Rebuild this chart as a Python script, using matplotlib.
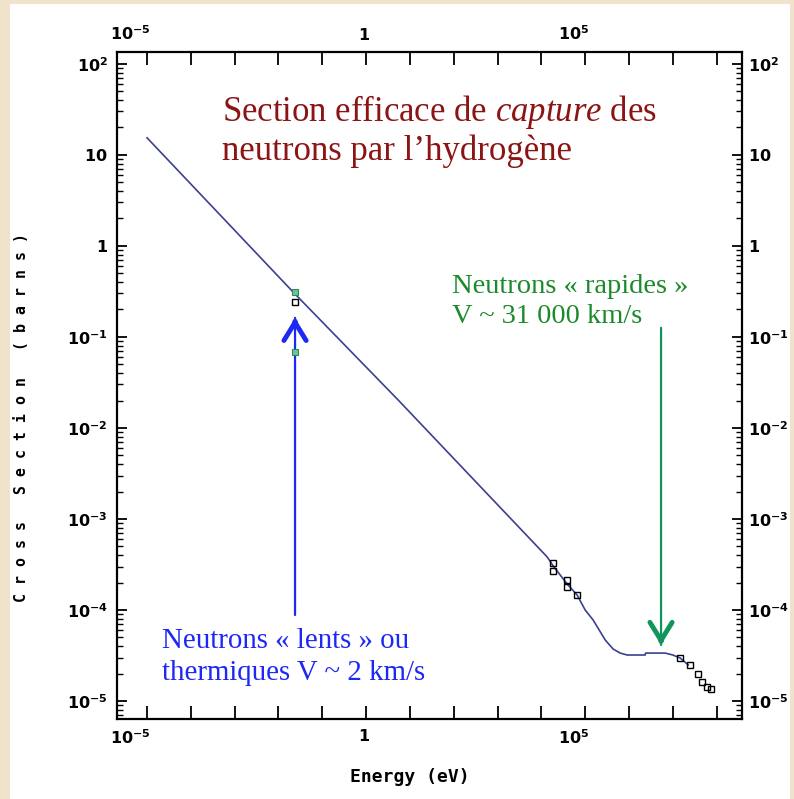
import matplotlib
matplotlib.use('Agg')
import matplotlib.pyplot as plt
import matplotlib.transforms as mtransforms
from matplotlib.patches import Rectangle
from matplotlib.ticker import FixedLocator, NullFormatter

plt.rcParams['mathtext.fontset'] = 'custom'
plt.rcParams['mathtext.rm'] = 'Liberation Serif'
plt.rcParams['mathtext.it'] = 'Liberation Serif:italic'
plt.rcParams['mathtext.bf'] = 'DejaVu Sans:bold'

# evaluated capture cross section of H-1
energy = [1.0e-5, 0.0215, 5.38, 1.36e4, 1.86e4, 3.88e4, 6.56e4, 1.0e5, 1.52e5,
          2.87e5, 4.36e5, 6.3e5, 9.1e5, 2.34e6, 2.40e6, 6.7e6, 1.0e7, 1.47e7, 2.25e7]
sigma = [15.4, 0.312, 0.0203, 3.82e-4, 3.05e-4, 1.93e-4, 1.46e-4, 1.0e-4, 7.76e-5,
         4.68e-5, 3.72e-5, 3.36e-5, 3.2e-5, 3.2e-5, 3.36e-5, 3.36e-5, 3.2e-5, 2.97e-5, 2.49e-5]

# measured points (open squares)
exp_energy = [0.0239, 1.86e4, 1.86e4, 3.88e4, 3.88e4, 6.56e4,
              1.47e7, 2.5e7, 3.8e7, 4.7e7, 6.1e7, 7.5e7]
exp_sigma = [0.243, 3.28e-4, 2.69e-4, 2.14e-4, 1.79e-4, 1.46e-4,
             2.97e-5, 2.49e-5, 1.98e-5, 1.62e-5, 1.43e-5, 1.35e-5]
thermal_energy = [0.0239, 0.0239]
thermal_sigma = [0.31, 0.0684]

x_label_exp = {-5: r'$\mathbf{10^{-5}}$', 0: r'$\mathbf{1}$', 5: r'$\mathbf{10^{5}}$'}
y_label_exp = {2: r'$\mathbf{10^{2}}$', 1: r'$\mathbf{10}$', 0: r'$\mathbf{1}$',
               -1: r'$\mathbf{10^{-1}}$', -2: r'$\mathbf{10^{-2}}$', -3: r'$\mathbf{10^{-3}}$',
               -4: r'$\mathbf{10^{-4}}$', -5: r'$\mathbf{10^{-5}}$'}

# arrows: (energy, tail sigma, tip sigma)
slow_arrow = (0.0239, 8.8e-5, 0.162)
fast_arrow = (5.4e6, 0.126, 4.12e-5)

line_col = '#3b4090'
red = '#8b1414'
blue = '#1e28f5'
green_txt = '#1a8a2a'
green_arr = '#12955a'

fig = plt.figure(figsize=(7.94, 7.99), dpi=100, facecolor='#efe3cc')
fig.patches.append(Rectangle((10 / 794, 0), 780 / 794, 795 / 799, transform=fig.transFigure,
                             facecolor='white', edgecolor='none', zorder=-10))

ax = fig.add_axes([117 / 794, 80 / 799, 625 / 794, 667 / 799])
ax.set_xscale('log')
ax.set_yscale('log')
ax.set_xlim(10 ** -5.685, 10 ** 8.58)
ax.set_ylim(10 ** -5.198, 10 ** 2.13)

ax.plot(energy, sigma, color=line_col, lw=1.2, zorder=3)
ax.plot(exp_energy, exp_sigma, ls='none', marker='s', ms=4, mfc='none', mec='black', mew=1, zorder=4)
ax.plot(thermal_energy, thermal_sigma, ls='none', marker='s', ms=4, mfc='#6fc39a', mec='#2f8a5a', mew=0.8, zorder=4)

# x axis: one tick per decade, labels on three of them
xt = list(range(-5, 9))
ax.xaxis.set_major_locator(FixedLocator([10.0 ** k for k in xt]))
ax.xaxis.set_minor_locator(FixedLocator([]))
ax.set_xticklabels([x_label_exp.get(k, '') for k in xt])
ax.tick_params(axis='x', which='major', direction='in', length=9.5, width=1.3,
               top=True, labeltop=True, labelsize=11.5, pad=6.5)

yt = list(range(-5, 3))
ax.yaxis.set_major_locator(FixedLocator([10.0 ** k for k in yt]))
ax.yaxis.set_minor_locator(FixedLocator([m * 10.0 ** k for k in range(-6, 3) for m in range(2, 10)]))
ax.yaxis.set_minor_formatter(NullFormatter())
ax.set_yticklabels([y_label_exp[k] for k in yt])
ax.tick_params(axis='y', which='major', direction='in', length=7, width=1.3,
               right=True, labelright=True, labelsize=11.5, pad=6.5)
ax.tick_params(axis='y', which='minor', direction='in', length=4.5, width=1.0, right=True)
for sp in ax.spines.values():
    sp.set_linewidth(1.6)

# x labels sit right-aligned just past their tick
shift = mtransforms.ScaledTranslation(4 / 100, 0, fig.dpi_scale_trans)
for t in ax.xaxis.get_major_ticks():
    for lab in (t.label1, t.label2):
        lab.set_ha('right')
        lab.set_transform(lab.get_transform() + shift)
for t in ax.yaxis.get_major_ticks():
    t.label2.set_transform(t.label2.get_transform() +
                           mtransforms.ScaledTranslation(-3 / 100, 0, fig.dpi_scale_trans))

fig.text(410 / 794, 1 - 777 / 799, 'Energy (eV)', family='DejaVu Sans Mono', weight='bold',
         fontsize=13, ha='center', va='center')
fig.text(22 / 794, 1 - 417 / 799, 'C r o s s   S e c t i o n   ( b a r n s )',
         family='DejaVu Sans Mono', weight='bold', fontsize=10.7, rotation=90,
         ha='center', va='center')

# arrows
e, s0, s1 = slow_arrow
ax.annotate('', xy=(e, s1), xytext=(e, s0),
            arrowprops=dict(arrowstyle='-', color=blue, lw=1.6, shrinkA=0, shrinkB=0))
ax.annotate('', xy=(e, s1), xytext=(0, -4), textcoords='offset points',
            arrowprops=dict(arrowstyle='->,head_length=0.65,head_width=0.4', mutation_scale=20,
                            color=blue, lw=3.5, shrinkA=0, shrinkB=0))
e, s0, s1 = fast_arrow
ax.annotate('', xy=(e, s1), xytext=(e, s0),
            arrowprops=dict(arrowstyle='-', color=green_arr, lw=1.6, shrinkA=0, shrinkB=0))
ax.annotate('', xy=(e, s1), xytext=(0, 4), textcoords='offset points',
            arrowprops=dict(arrowstyle='->,head_length=0.65,head_width=0.4', mutation_scale=20,
                            color=green_arr, lw=3.5, shrinkA=0, shrinkB=0))

# annotations
serif = 'Liberation Serif'
fig.text(222 / 794, 1 - 121 / 799, r'Section efficace de $\mathit{capture}$ des',
         family=serif, fontsize=25, color=red, va='baseline')
fig.text(222 / 794, 1 - 160 / 799, 'neutrons par l\u2019hydrogène',
         family=serif, fontsize=25, color=red, va='baseline')
fig.text(162 / 794, 1 - 648 / 799, 'Neutrons « lents » ou',
         family=serif, fontsize=20.8, color=blue, va='baseline')
fig.text(162 / 794, 1 - 680 / 799, 'thermiques V ~ 2 km/s',
         family=serif, fontsize=20.8, color=blue, va='baseline')
fig.text(452 / 794, 1 - 293 / 799, 'Neutrons « rapides »',
         family=serif, fontsize=20.5, color=green_txt, va='baseline')
fig.text(452 / 794, 1 - 323 / 799, 'V ~ 31 000 km/s',
         family=serif, fontsize=20.5, color=green_txt, va='baseline')

fig.savefig('out.png', dpi=100, facecolor=fig.get_facecolor())
